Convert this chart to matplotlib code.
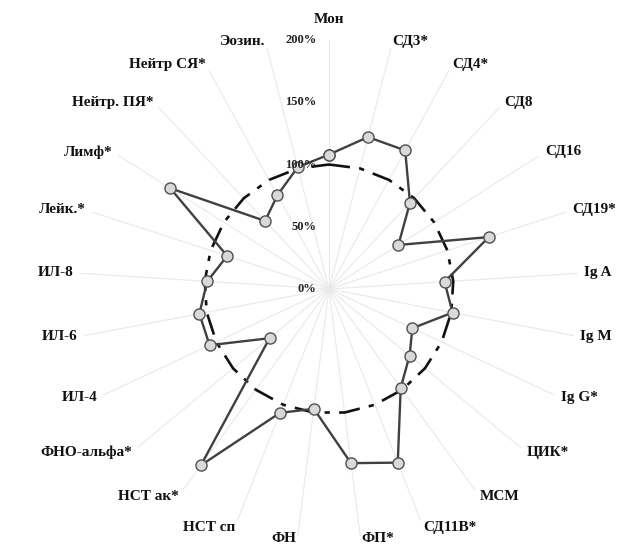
import numpy as np
import matplotlib
matplotlib.use("Agg")
import matplotlib.pyplot as plt

categories = ["Мон", "СД3*", "СД4*", "СД8", "СД16", "СД19*", "Ig A", "Ig M", "Ig G*",
              "ЦИК*", "МСМ", "СД11В*", "ФП*", "ФН", "НСТ сп", "НСТ ак*", "ФНО-альфа*",
              "ИЛ-4", "ИЛ-6", "ИЛ-8", "Лейк.*", "Лимф*", "Нейтр. ПЯ*", "Нейтр СЯ*", "Эозин."]
patients = [108, 126, 127, 95, 66, 135, 93, 101, 74, 84, 98, 150, 141, 97, 107, 175, 62,
            106, 106, 98, 86, 151, 75, 86, 101]
norm = [100] * len(categories)
r_ticks = [0, 50, 100, 150, 200]
r_tick_labels = ["0%", "50%", "100%", "150%", "200%"]

W, H = 625, 547
fig = plt.figure(figsize=(W / 100, H / 100), dpi=100)
cx, cy, R = 329, 289, 249
ax = fig.add_axes([(cx - R) / W, (H - cy - R) / H, 2 * R / W, 2 * R / H], projection="polar")
ax.set_theta_zero_location("N")
ax.set_theta_direction(-1)
ax.set_ylim(0, 200)

n = len(categories)
angles = np.arange(n) * 2 * np.pi / n
ang_c = np.append(angles, angles[0])

ax.set_xticks(angles)
ax.set_xticklabels([])
ax.set_yticks(r_ticks)
ax.set_yticklabels([])
ax.yaxis.grid(False)
ax.xaxis.grid(True, color="#e9e9e9", lw=0.8)
ax.spines["polar"].set_visible(False)
ax.tick_params(axis="both", length=0)

ax.plot(ang_c, np.append(norm, norm[0]), color="#111111", lw=1.9,
        dashes=(8, 3.5, 2, 3.5), zorder=2)
ax.plot(ang_c, np.append(patients, patients[0]), color="#404040", lw=1.7,
        marker="o", markersize=8, markerfacecolor="#d9d9d9",
        markeredgecolor="#505050", markeredgewidth=1.0, zorder=3)

font = dict(family="Liberation Serif", fontweight="bold")
for v, lab in zip(r_ticks, r_tick_labels):
    ax.annotate(lab, xy=(0, v), xytext=(-9, 0), textcoords="offset points",
                ha="right", va="center", fontsize=9, color="#222222", **font)

# category labels just outside the end of each spoke
r_lab = 200 * 256 / 249
for a, lab in zip(angles, categories):
    s, c = np.sin(a), np.cos(a)
    if abs(s) < 1e-6:
        ha, va = "center", ("bottom" if c > 0 else "top")
        rr = r_lab + 6
    elif c < -0.98:
        # labels at the very bottom: keep them inside the picture
        ha, va = ("left" if s > 0 else "right"), "bottom"
        rr = 200 * 258 / 249
    else:
        ha, va = ("left" if s > 0 else "right"), "center"
        rr = r_lab
    ax.text(a, rr, lab, ha=ha, va=va, fontsize=11, color="#111111", clip_on=False, **font)

fig.savefig("out.png", dpi=100)
